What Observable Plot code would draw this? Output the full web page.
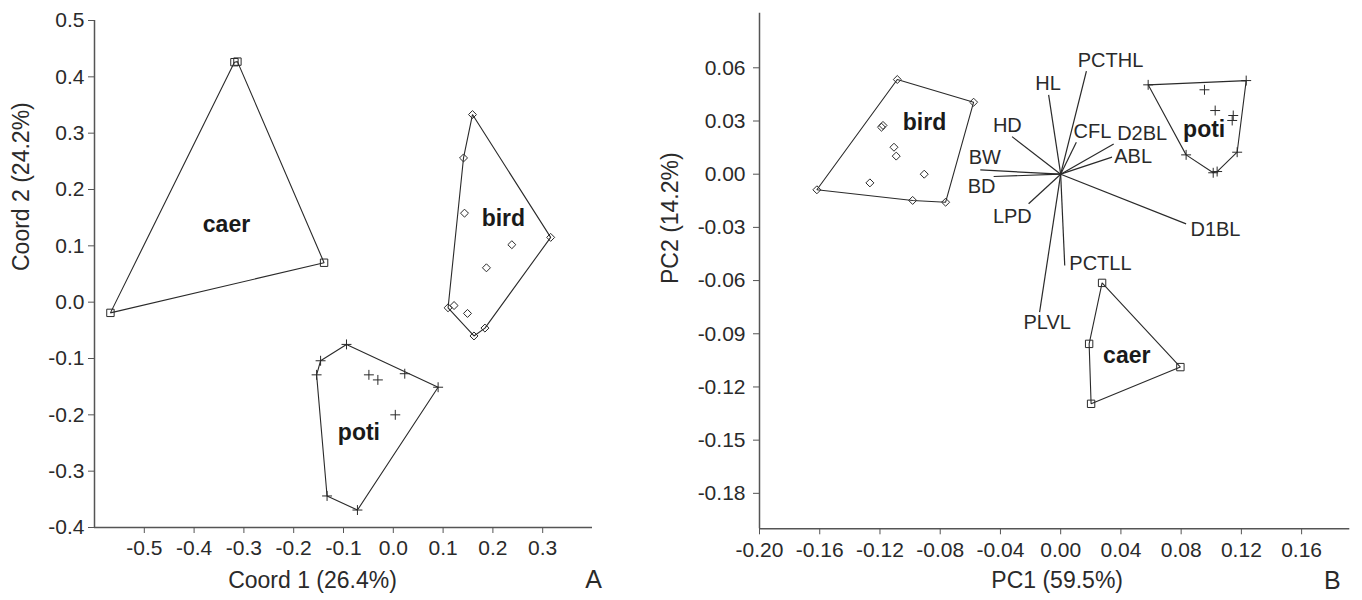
<!DOCTYPE html>
<html><head><meta charset="utf-8">
<script src="https://cdn.jsdelivr.net/npm/d3@7"></script>
<script src="https://cdn.jsdelivr.net/npm/@observablehq/plot@0.6"></script>
<style>
html,body{margin:0;padding:0;background:#fff;}
#wrap{position:relative;width:1362px;height:600px;overflow:hidden;background:#fff;}
#left{position:absolute;left:0;top:0;}
#right{position:absolute;left:680px;top:0;}
svg{overflow:visible;}
</style></head><body><div id="wrap"><div id="left"></div><div id="right"></div></div>
<script>
// ---------- Panel A (PCoA) data ----------
const leftCaerX = [-0.319, -0.313, -0.139, -0.568];
const leftCaerY = [0.426, 0.427, 0.070, -0.019];
const leftBirdX = [0.159, 0.141, 0.143, 0.316, 0.238, 0.187, 0.110, 0.122, 0.149, 0.162, 0.184];
const leftBirdY = [0.333, 0.256, 0.158, 0.115, 0.102, 0.061, -0.010, -0.006, -0.020, -0.060, -0.046];
const leftPotiX = [-0.094, -0.146, -0.154, -0.133, -0.072, 0.090, 0.023, -0.049, -0.031, 0.004];
const leftPotiY = [-0.075, -0.104, -0.129, -0.344, -0.369, -0.151, -0.127, -0.129, -0.138, -0.200];
const leftGroupNames = ["caer", "bird", "poti"];
const leftGroupLabelX = [-0.335, 0.221, -0.069];
const leftGroupLabelY = [0.137, 0.149, -0.231];
const leftXTicks = [-0.5, -0.4, -0.3, -0.2, -0.1, 0.0, 0.1, 0.2, 0.3];
const leftYTicks = [-0.4, -0.3, -0.2, -0.1, 0.0, 0.1, 0.2, 0.3, 0.4, 0.5];

// ---------- Panel B (PCA) data ----------
const rightBirdX = [-0.1619, -0.1085, -0.0578, -0.0764, -0.0983, -0.1190, -0.1180, -0.1107, -0.1092, -0.0906, -0.1267];
const rightBirdY = [-0.0088, 0.0534, 0.0406, -0.0158, -0.0148, 0.0265, 0.0275, 0.0152, 0.0102, 0.0000, -0.0049];
const rightPotiX = [0.0581, 0.1232, 0.1172, 0.1039, 0.1013, 0.0833, 0.0955, 0.1026, 0.1146, 0.1139];
const rightPotiY = [0.0504, 0.0528, 0.0124, 0.0015, 0.0008, 0.0109, 0.0476, 0.0359, 0.0331, 0.0303];
const rightCaerX = [0.0275, 0.0189, 0.0795, 0.0202];
const rightCaerY = [-0.0613, -0.0957, -0.1088, -0.1295];
const rightGroupNames = ["bird", "poti", "caer"];
const rightGroupLabelX = [-0.0904, 0.0953, 0.0439];
const rightGroupLabelY = [0.0293, 0.0250, -0.1023];
const loadingNames = ["PCTHL", "HL", "HD", "CFL", "D2BL", "ABL", "D1BL", "PCTLL", "PLVL", "LPD", "BW", "BD"];
const loadingX = [0.0171, -0.0080, -0.0323, 0.0104, 0.0352, 0.0341, 0.0833, 0.0027, -0.0140, -0.0213, -0.0534, -0.0445];
const loadingY = [0.0581, 0.0447, 0.0212, 0.0180, 0.0170, 0.0096, -0.0280, -0.0515, -0.0778, -0.0167, 0.0024, -0.0013];
const loadingLabelX = [0.0331, -0.0084, -0.0354, 0.0211, 0.0541, 0.0481, 0.1028, 0.0264, -0.0090, -0.0321, -0.0504, -0.0525];
const loadingLabelY = [0.0641, 0.0513, 0.0275, 0.0240, 0.0231, 0.0098, -0.0312, -0.0505, -0.0835, -0.0239, 0.0096, -0.0069];
const rightXTicks = [-0.20, -0.16, -0.12, -0.08, -0.04, 0.00, 0.04, 0.08, 0.12, 0.16];
const rightYTicks = [-0.18, -0.15, -0.12, -0.09, -0.06, -0.03, 0.00, 0.03, 0.06];

// ---------- helpers ----------
const FONT = "'Liberation Sans', Arial, Helvetica, sans-serif";
const INK = "#2a2a2a";
const AXIS = "#555";
const TICK_FS = 21, LOAD_FS = 20, GROUP_FS = 23, TITLE_FS = 23, PANEL_FS = 25;
const rows = (group, xs, ys) => xs.map((x, i) => ({group, x, y: ys[i]}));
const symbolOf = {caer: "square2", bird: "diamond2", poti: "plus"};
const rOf = {caer: 4.7, bird: 3.6, poti: 3.3};
function groupMarks(pts) {
  const marks = [Plot.hull(pts, {x: "x", y: "y", z: "group", stroke: INK, strokeWidth: 1.1})];
  for (const g of Object.keys(symbolOf)) {
    marks.push(Plot.dot(pts.filter(d => d.group === g), {x: "x", y: "y", symbol: symbolOf[g], r: rOf[g], stroke: INK, strokeWidth: 1, fill: "none"}));
  }
  return marks;
}

// ---------- Panel A ----------
const leftPts = [...rows("caer", leftCaerX, leftCaerY), ...rows("bird", leftBirdX, leftBirdY), ...rows("poti", leftPotiX, leftPotiY)];
const leftLabels = leftGroupNames.map((t, i) => ({t, x: leftGroupLabelX[i], y: leftGroupLabelY[i]}));

const left = Plot.plot({
  width: 680, height: 600,
  marginLeft: 94, marginRight: 88, marginTop: 20, marginBottom: 73,
  x: {domain: [-0.6, 0.4]},
  y: {domain: [-0.4, 0.5]},
  style: {fontFamily: FONT, fontSize: TICK_FS + "px", color: INK, background: "transparent", overflow: "visible"},
  marks: [
    Plot.ruleY([-0.4], {stroke: AXIS, strokeWidth: 1.5}),
    Plot.ruleX([-0.6], {stroke: AXIS, strokeWidth: 1.5}),
    Plot.axisX(leftXTicks, {tickSize: 6, tickPadding: 7, tickFormat: d => d.toFixed(1), label: null, fontSize: TICK_FS, stroke: AXIS}),
    Plot.axisY(leftYTicks, {tickSize: 6, tickPadding: 4, tickFormat: d => d.toFixed(1), label: null, fontSize: TICK_FS, stroke: AXIS}),
    ...groupMarks(leftPts),
    Plot.text(leftLabels, {x: "x", y: "y", text: "t", fontWeight: "bold", fontSize: GROUP_FS, fill: "#1a1a1a"}),
    Plot.text(["Coord 1 (26.4%)"], {text: d => d, frameAnchor: "bottom", dx: -31, dy: 60, fontSize: TITLE_FS}),
    Plot.text(["Coord 2 (24.2%)"], {text: d => d, frameAnchor: "left", rotate: -90, dx: -73, dy: -3, fontSize: TITLE_FS}),
    Plot.text(["A"], {text: d => d, frameAnchor: "bottom-right", dx: 9.5, dy: 60, fontSize: PANEL_FS})
  ]
});
document.getElementById("left").appendChild(left);

// ---------- Panel B ----------
const rightPts = [...rows("bird", rightBirdX, rightBirdY), ...rows("poti", rightPotiX, rightPotiY), ...rows("caer", rightCaerX, rightCaerY)];
const rightLabels = rightGroupNames.map((t, i) => ({t, x: rightGroupLabelX[i], y: rightGroupLabelY[i]}));
const loadings = loadingNames.map((t, i) => ({t, x: loadingX[i], y: loadingY[i], lx: loadingLabelX[i], ly: loadingLabelY[i]}));

const right = Plot.plot({
  width: 682, height: 600,
  marginLeft: 79, marginRight: 12.7, marginTop: 12.7, marginBottom: 71.7,
  x: {domain: [-0.2, 0.192]},
  y: {domain: [-0.2, 0.0908]},
  style: {fontFamily: FONT, fontSize: TICK_FS + "px", color: INK, background: "transparent", overflow: "visible"},
  marks: [
    Plot.ruleY([-0.2], {stroke: AXIS, strokeWidth: 1.5}),
    Plot.ruleX([-0.2], {stroke: AXIS, strokeWidth: 1.5}),
    Plot.axisX(rightXTicks, {tickSize: 6, tickPadding: 7, tickFormat: d => d.toFixed(2), label: null, fontSize: TICK_FS, stroke: AXIS}),
    Plot.axisY(rightYTicks, {tickSize: 6, tickPadding: 8, tickFormat: d => d.toFixed(2), label: null, fontSize: TICK_FS, stroke: AXIS}),
    Plot.link(loadings, {x1: () => 0, y1: () => 0, x2: "x", y2: "y", stroke: INK, strokeWidth: 1.2}),
    Plot.text(loadings, {x: "lx", y: "ly", text: "t", fontSize: LOAD_FS}),
    ...groupMarks(rightPts),
    Plot.text(rightLabels, {x: "x", y: "y", text: "t", fontWeight: "bold", fontSize: GROUP_FS, fill: "#1a1a1a"}),
    Plot.text(["PC1 (59.5%)"], {text: d => d, frameAnchor: "bottom", dx: 2.5, dy: 59, fontSize: TITLE_FS}),
    Plot.text(["PC2 (14.2%)"], {text: d => d, frameAnchor: "left", rotate: -90, dx: -89, dy: 13, fontSize: TITLE_FS}),
    Plot.text(["B"], {text: d => d, frameAnchor: "bottom-right", dx: -9, dy: 60, fontSize: PANEL_FS})
  ]
});
document.getElementById("right").appendChild(right);
</script>
</body></html>
